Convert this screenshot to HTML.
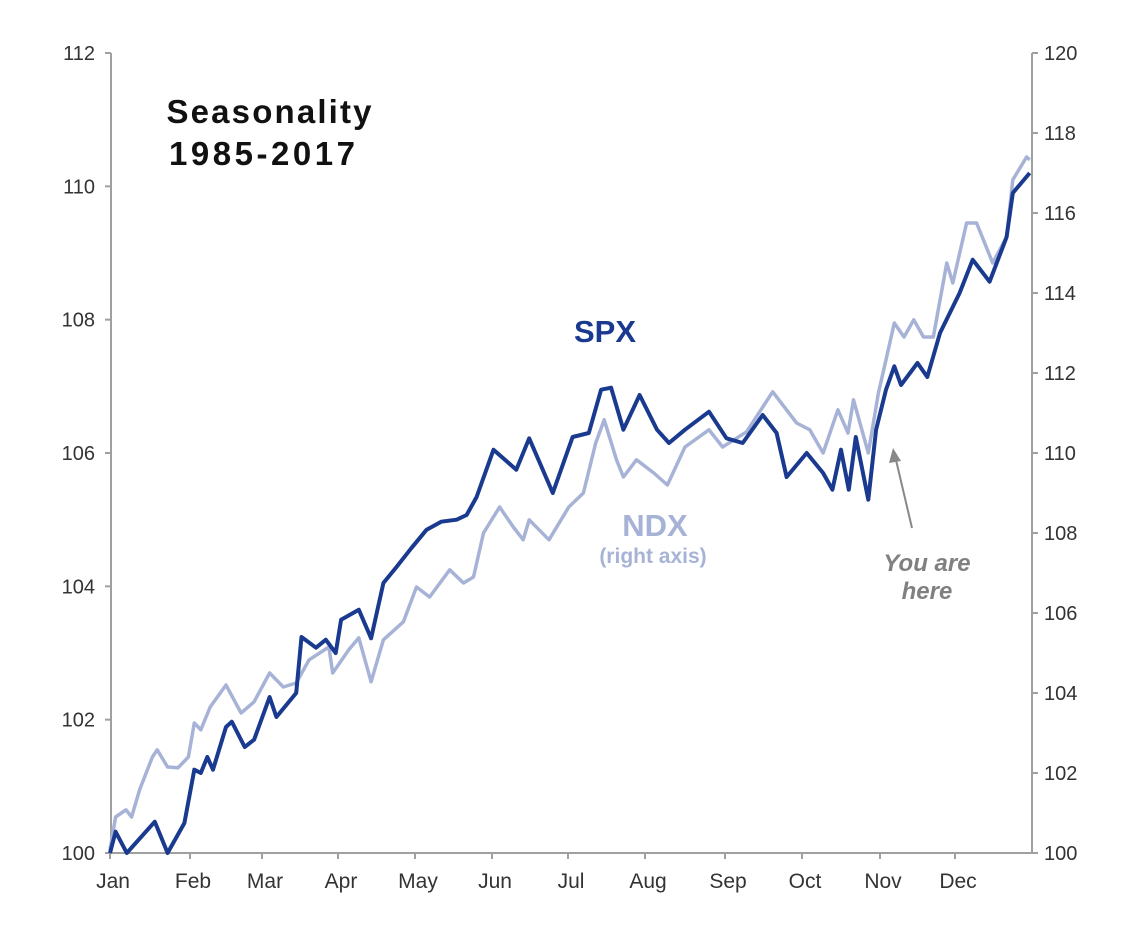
<!DOCTYPE html>
<html><head><meta charset="utf-8"><style>
html,body{margin:0;padding:0;background:#fff;}
svg{display:block;font-family:"Liberation Sans",Arial,sans-serif;}
</style></head><body>
<svg id="chart" width="1125" height="931" viewBox="0 0 1125 931">
<g id="axes"></g>
<g id="lines"></g>
<text x="269" y="123" text-anchor="middle" font-size="33" font-weight="bold" fill="#111" textLength="205">Seasonality</text>
<text x="262" y="165" text-anchor="middle" font-size="33" font-weight="bold" fill="#111" textLength="186">1985-2017</text>
<text x="605" y="342" text-anchor="middle" font-size="31" font-weight="bold" fill="#1a3a8f">SPX</text>
<text x="655" y="536" text-anchor="middle" font-size="31" font-weight="bold" fill="#a7b3d6">NDX</text>
<text x="653" y="563" text-anchor="middle" font-size="21" font-weight="bold" fill="#a7b3d6">(right axis)</text>
<text x="927" y="571" text-anchor="middle" font-size="24" font-weight="bold" font-style="italic" fill="#808080">You are</text>
<text x="927" y="599" text-anchor="middle" font-size="24" font-weight="bold" font-style="italic" fill="#808080">here</text>
<line x1="912" y1="528" x2="896" y2="460" stroke="#888" stroke-width="2"/>
<polygon points="893,448 889,463 901,461" fill="#888"/>
</svg>
<script>
const months = ["Jan","Feb","Mar","Apr","May","Jun","Jul","Aug","Sep","Oct","Nov","Dec"];
const leftTicks = [100,102,104,106,108,110,112];
const rightTicks = [100,102,104,106,108,110,112,114,116,118,120];
const spxT = [0,0.07,0.21,0.56,0.72,0.93,1.06,1.15,1.24,1.32,1.50,1.58,1.76,1.89,2.10,2.19,2.45,2.52,2.71,2.84,2.97,3.04,3.27,3.43,3.59,3.76,3.95,4.15,4.34,4.54,4.67,4.80,5.02,5.32,5.49,5.80,6.06,6.27,6.43,6.56,6.72,6.93,7.15,7.30,7.50,7.80,8.02,8.23,8.49,8.67,8.80,9.06,9.27,9.39,9.50,9.60,9.69,9.85,9.95,10.08,10.19,10.28,10.50,10.63,10.80,11.06,11.23,11.45,11.67,11.75,11.97];
const spxV = [100,100.32,100,100.47,100,100.45,101.25,101.2,101.44,101.25,101.89,101.97,101.59,101.7,102.34,102.04,102.4,103.24,103.08,103.2,103.0,103.5,103.65,103.22,104.05,104.29,104.57,104.85,104.97,105.0,105.07,105.34,106.05,105.75,106.22,105.4,106.24,106.3,106.95,106.98,106.35,106.87,106.35,106.15,106.35,106.62,106.22,106.15,106.57,106.3,105.64,106.0,105.7,105.45,106.05,105.45,106.24,105.3,106.35,106.95,107.3,107.02,107.35,107.14,107.8,108.4,108.9,108.57,109.24,109.9,110.2];
const ndxT = [0,0.07,0.20,0.27,0.37,0.53,0.59,0.72,0.85,0.98,1.06,1.15,1.28,1.50,1.71,1.89,2.10,2.28,2.45,2.62,2.88,2.93,3.14,3.27,3.43,3.59,3.85,4.02,4.19,4.45,4.63,4.76,4.89,5.10,5.28,5.41,5.49,5.75,6.01,6.20,6.36,6.47,6.63,6.72,6.89,7.11,7.28,7.50,7.80,7.97,8.28,8.62,8.93,9.10,9.27,9.46,9.59,9.66,9.85,9.98,10.08,10.19,10.32,10.45,10.58,10.71,10.89,10.97,11.15,11.28,11.49,11.67,11.75,11.93,11.97];
const ndxV = [100.08,100.9,101.08,100.9,101.58,102.4,102.58,102.15,102.13,102.4,103.25,103.08,103.65,104.2,103.5,103.78,104.5,104.15,104.25,104.83,105.15,104.5,105.08,105.38,104.28,105.33,105.78,106.65,106.4,107.08,106.75,106.9,108.0,108.65,108.15,107.83,108.33,107.83,108.65,109.0,110.25,110.83,109.83,109.4,109.83,109.5,109.2,110.15,110.58,110.15,110.53,111.53,110.75,110.58,110.0,111.08,110.5,111.33,110.0,111.5,112.33,113.25,112.9,113.33,112.9,112.9,114.75,114.25,115.75,115.75,114.75,115.4,116.83,117.4,117.33];

const L=111, R=1032, T=53, B=853;
const mx = [110,190,262,338,415,492,568,645,725,802,880,955];
function xS(t){const i=Math.min(Math.floor(t),11);const x1=i+1<12?mx[i+1]:1032;return mx[i]+(t-i)*(x1-mx[i]);}
function yL(v){return B-(v-100)/12*(B-T);}
function yR(v){return B-(v-100)/20*(B-T);}
const NS="http://www.w3.org/2000/svg";
const axes=document.getElementById('axes'), lines=document.getElementById('lines');
function mk(tag,attrs,parent){const e=document.createElementNS(NS,tag);for(const k in attrs)e.setAttribute(k,attrs[k]);parent.appendChild(e);return e;}
let e;
e=mk('line',{x1:L,y1:T,x2:L,y2:B,stroke:'#a0a0a0','stroke-width':2},axes);


e=mk('line',{x1:R,y1:T,x2:R,y2:B,stroke:'#a0a0a0','stroke-width':2},axes);


e=mk('line',{x1:L,y1:B,x2:R,y2:B,stroke:'#a0a0a0','stroke-width':2},axes);


leftTicks.forEach(v=>{const y=yL(v);
 mk('line',{x1:L-6,y1:y,x2:L,y2:y,stroke:'#a0a0a0','stroke-width':2},axes);
 e=mk('text',{x:L-16,y:y+7,'text-anchor':'end','font-size':20,fill:'#333'},axes);e.textContent=v;
 
 });
rightTicks.forEach(v=>{const y=yR(v);
 mk('line',{x1:R,y1:y,x2:R+6,y2:y,stroke:'#a0a0a0','stroke-width':2},axes);
 e=mk('text',{x:R+12,y:y+7,'text-anchor':'start','font-size':20,fill:'#333'},axes);e.textContent=v;
 
 });
months.forEach((m,i)=>{const x=mx[i];
 mk('line',{x1:x,y1:B,x2:x,y2:B+6,stroke:'#a0a0a0','stroke-width':2},axes);
 e=mk('text',{x:x+3,y:B+35,'text-anchor':'middle','font-size':21,fill:'#333'},axes);e.textContent=m;
 
 });
function path(ts,vs,ys){return ts.map((t,i)=>(i?'L':'M')+xS(t).toFixed(1)+','+ys(vs[i]).toFixed(1)).join('');}
e=mk('path',{d:path(ndxT,ndxV,yR),fill:'none',stroke:'#a7b3d6','stroke-width':3.5,'stroke-linejoin':'round'},lines);


e=mk('path',{d:path(spxT,spxV,yL),fill:'none',stroke:'#1a3a8f','stroke-width':4,'stroke-linejoin':'round'},lines);


</script>
</body></html>
